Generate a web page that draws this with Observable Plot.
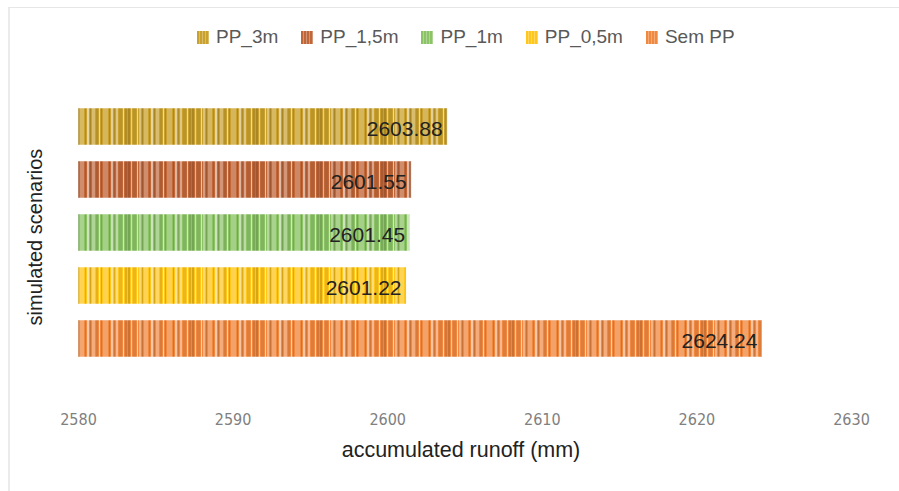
<!DOCTYPE html>
<html><head><meta charset="utf-8">
<script src="https://cdn.jsdelivr.net/npm/d3@7"></script>
<script src="https://cdn.jsdelivr.net/npm/@observablehq/plot@0.6"></script>
<style>
html,body{margin:0;padding:0;background:#fff;}
#wrap{position:relative;width:899px;height:491px;overflow:hidden;font-family:"Liberation Sans",Arial,sans-serif;}
#frame{position:absolute;left:8px;top:7px;width:900px;height:500px;border-left:2px solid #ebebeb;border-top:1px solid #e6e6e6;pointer-events:none;}
#legend{position:absolute;top:26px;left:197px;display:flex;align-items:center;gap:23px;font-size:19px;color:#595959;white-space:nowrap;}
.item{display:flex;align-items:center;gap:7px;}
.sw{width:12px;height:13px;display:inline-block;}
#chart{position:absolute;left:0;top:0;}
g[aria-label="x-axis tick label"]{font-stretch:condensed;}
</style>
</head><body>
<div id="wrap"><div id="frame"></div><div id="chart"></div><div id="legend"></div></div>
<script>
const scenarios = ["PP_3m", "PP_1,5m", "PP_1m", "PP_0,5m", "Sem PP"];
const runoff = [2603.88, 2601.55, 2601.45, 2601.22, 2624.24];
const xTicks = [2580, 2590, 2600, 2610, 2620, 2630];
const xTitle = "accumulated runoff (mm)";
const yTitle = "simulated scenarios";

const baseColors = ["#C9A12E", "#C0673A", "#8CC367", "#FFC61C", "#F08840"];
const stripeLayout = [[0,2,"d",.16],[3,1,"l",.5],[5,3,"d",.08],[9,1,"l",.6],[11,2,"l",.35],[14,1,"d",.16],[16,4,"l",.25],[21,1,"d",.12],[23,2,"l",.55],[26,1,"d",.16],[28,3,"l",.3],[32,2,"d",.1],[35,1,"l",.6],[37,1,"d",.14],[39,5,"l",.22],[45,1,"d",.16],[47,2,"l",.5],[50,1,"d",.12],[52,2,"l",.4],[55,3,"d",.08],[59,1,"l",.6],[61,2,"d",.12]];

const data = scenarios.map((s, i) => ({scenario: s, value: runoff[i]}));

const plot = Plot.plot({
  width: 899, height: 491,
  marginLeft: 78, marginRight: 48, marginTop: 92, marginBottom: 118,
  style: {background: "transparent", fontFamily: "Liberation Sans, Arial, sans-serif"},
  x: {domain: [xTicks[0], xTicks[xTicks.length - 1]], axis: null},
  y: {domain: scenarios, padding: 0.3, axis: null},
  color: {domain: scenarios, range: scenarios.map((s, i) => `url(#pat${i})`)},
  marks: [
    Plot.axisX({ticks: xTicks, tickSize: 0, tickPadding: 40, tickFormat: d => String(d), label: null,
      fontSize: 16, fill: "#808080", fontFamily: "DejaVu Sans Condensed, DejaVu Sans, sans-serif"}),
    Plot.barX(data, {x1: () => xTicks[0], x2: "value", y: "scenario", fill: "scenario", stroke: "#ffffff", strokeOpacity: 0.5, strokeWidth: 1}),
    Plot.text(data, {x: "value", y: "scenario", text: d => d.value.toFixed(2), textAnchor: "end", dx: -5, dy: 2, fontSize: 21, fill: "#222"}),
    Plot.text([xTitle], {frameAnchor: "bottom", lineAnchor: "middle", dy: 77, dx: -4, fontSize: 21.5, fill: "#222"}),
    Plot.text([yTitle], {frameAnchor: "left", textAnchor: "middle", lineAnchor: "middle", rotate: -90, dx: -43, dy: 4, fontSize: 20, fill: "#222"})
  ]
});

// stripe patterns
const svg = d3.select(plot);
const defs = svg.insert("defs", ":first-child");
baseColors.forEach((c, i) => {
  const p = defs.append("pattern").attr("id", `pat${i}`).attr("patternUnits", "userSpaceOnUse")
    .attr("width", 64).attr("height", 10);
  p.append("rect").attr("width", 64).attr("height", 10).attr("fill", c);
  stripeLayout.forEach(([x, w, k, o]) => {
    p.append("rect").attr("x", x).attr("width", w).attr("height", 10)
      .attr("fill", k === "l" ? "#fff" : "#000").attr("fill-opacity", o);
  });
});
document.getElementById("chart").appendChild(plot);

// legend
const leg = document.getElementById("legend");
scenarios.forEach((s, i) => {
  const it = document.createElement("div"); it.className = "item";
  const sw = document.createElement("span"); sw.className = "sw";
  sw.style.background = `repeating-linear-gradient(90deg, ${baseColors[i]} 0 2px, rgba(255,255,255,0.3) 2px 3px), ${baseColors[i]}`;
  const t = document.createElement("span"); t.textContent = s;
  it.appendChild(sw); it.appendChild(t); leg.appendChild(it);
});
</script>
</body></html>
